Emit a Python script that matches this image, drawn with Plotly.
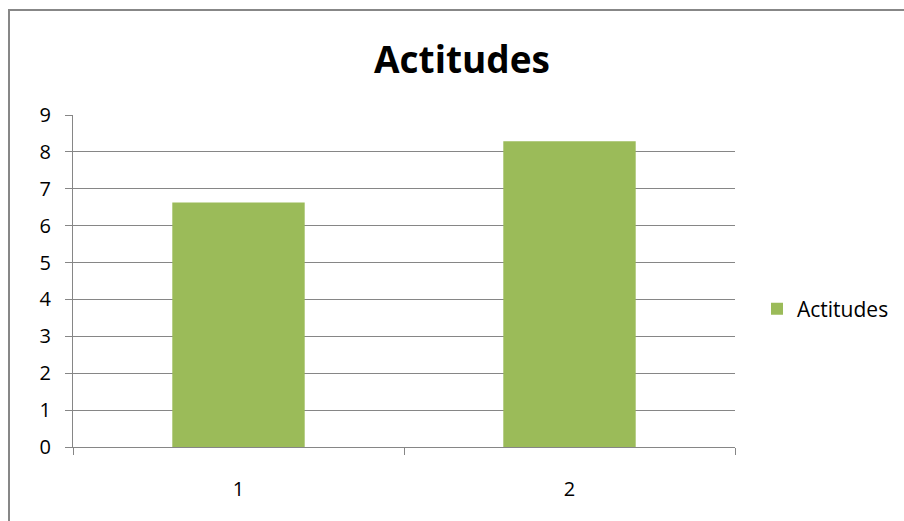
import plotly.graph_objects as go

categories = ["1", "2"]
values = [6.63, 8.29]
series_name = "Actitudes"
title_text = "Actitudes"
y_ticks = list(range(0, 10))

W, H = 904, 521
L, T = 73, 115
R = W - 735
B = H - 447
pw, ph = W - L - R, H - T - B

fig = go.Figure()
fig.add_trace(go.Bar(
    x=categories, y=values, name=series_name,
    marker=dict(color="#9BBB59", line=dict(width=0)),
    width=0.4, showlegend=True,
))

grid = "#868686"
fig.update_layout(
    width=W, height=H,
    margin=dict(l=L, r=R, t=T, b=B, autoexpand=False),
    paper_bgcolor="white", plot_bgcolor="white",
    font=dict(family="Open Sans", size=20, color="#000000"),
    title=dict(text="<b>" + title_text + "</b>", x=462 / W, xref="container",
               xanchor="center", y=1 - 60 / H, yref="container", yanchor="middle",
               font=dict(family="Open Sans", size=37, color="#000000")),
    showlegend=True,
    legend=dict(x=(757 - L) / pw, xanchor="left", y=0.5 + (447 - 309 - ph / 2) / ph,
                yanchor="middle", font=dict(family="Open Sans", size=21, color="#000000"),
                bgcolor="rgba(0,0,0,0)", itemwidth=30),
    xaxis=dict(type="category", showgrid=False, showline=True, linecolor=grid, linewidth=1,
               ticks="outside", ticklen=7, tickcolor=grid, tickson="boundaries",
               ticklabelstandoff=24, tickfont=dict(size=20), range=[-0.5, 1.5]),
    yaxis=dict(range=[0, 9], tickvals=y_ticks, showgrid=True, gridcolor=grid, gridwidth=1,
               showline=True, linecolor=grid, linewidth=1, ticks="outside", ticklen=7,
               tickcolor=grid, zeroline=False, ticklabelstandoff=10, tickfont=dict(size=20)),
    bargap=0.6,
)

# chart frame (top and left edges visible in the reference)
def px_x(p):
    return (p - L) / pw

def px_y(p):
    return (ph + T - p) / ph

border = dict(color="#878787", width=2)
fig.add_shape(type="line", xref="paper", yref="paper",
              x0=px_x(8), x1=px_x(W + 5), y0=px_y(10), y1=px_y(10), line=border, layer="below")
fig.add_shape(type="line", xref="paper", yref="paper",
              x0=px_x(9), x1=px_x(9), y0=px_y(9), y1=px_y(H + 5), line=border, layer="below")

fig.write_html(
    "out.html",
    config={"displayModeBar": False},
    post_script="document.body.style.margin='0';document.body.style.overflow='hidden';",
)
